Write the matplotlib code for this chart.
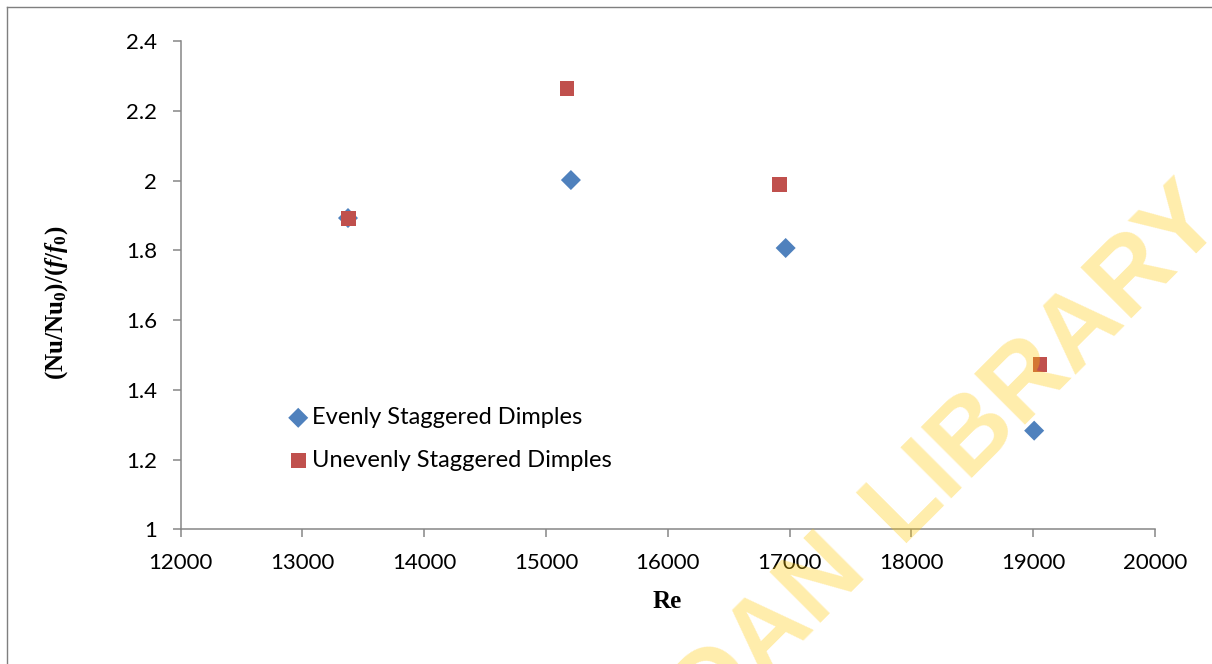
import matplotlib
matplotlib.use("Agg")
import matplotlib.pyplot as plt
from matplotlib.lines import Line2D

# Data
re_even = [13375, 15205, 16968, 19008]
ratio_even = [1.893, 2.002, 1.807, 1.283]
re_uneven = [13377, 15173, 16918, 19057]
ratio_uneven = [1.892, 2.265, 1.989, 1.473]
label_even = "Evenly Staggered Dimples"
label_uneven = "Unevenly Staggered Dimples"
x_ticks = [12000, 13000, 14000, 15000, 16000, 17000, 18000, 19000, 20000]
y_ticks = [1, 1.2, 1.4, 1.6, 1.8, 2, 2.2, 2.4]
y_tick_labels = ["1", "1.2", "1.4", "1.6", "1.8", "2", "2.2", "2.4"]

W, H = 1212, 664
DPI = 100
plt.rcParams['mathtext.fontset'] = 'custom'
plt.rcParams['mathtext.rm'] = 'Liberation Serif:bold'
plt.rcParams['mathtext.it'] = 'Liberation Serif:italic:bold'
plt.rcParams['mathtext.bf'] = 'Liberation Serif:bold'

fig = plt.figure(figsize=(W / DPI, H / DPI), dpi=DPI)
fig.patch.set_facecolor('white')
ax = fig.add_axes([180.5 / W, 1 - 529.3 / H, (1155 - 180.5) / W, (529.3 - 41.3) / H])

ax.scatter(re_even, ratio_even, marker='D', s=10.2 ** 2, color='#4F81BD',
           edgecolors='none', label=label_even, zorder=3)
ax.scatter(re_uneven, ratio_uneven, marker='s', s=10.6 ** 2, color='#C0504D',
           edgecolors='none', label=label_uneven, zorder=4)

ax.set_xlim(12000, 20000)
ax.set_ylim(1, 2.4)
ax.set_xticks(x_ticks)
ax.set_xticklabels([str(v) for v in x_ticks])
ax.set_yticks(y_ticks)
ax.set_yticklabels(y_tick_labels)

for side in ['top', 'right']:
    ax.spines[side].set_visible(False)
for side in ['left', 'bottom']:
    ax.spines[side].set_color('#868686')
    ax.spines[side].set_linewidth(1.1)
ax.tick_params(axis='both', direction='out', length=6, width=1.1, color='#868686',
               labelsize=16, labelcolor='black', pad=11)
for lbl in ax.get_xticklabels() + ax.get_yticklabels():
    lbl.set_fontfamily('Lato')

fig.text(667 / W, 1 - 602 / H, 'Re', fontfamily='Liberation Serif', fontweight='bold',
         fontsize=18, ha='center', va='center')
fig.text(57 / W, 1 - 303 / H, r'$\mathrm{(Nu/Nu_0)/(}\mathit{f/f_0}\mathrm{)}$',
         fontsize=18, rotation=90, ha='center', va='center')

leg = ax.legend(loc='upper left', bbox_to_anchor=(287 / W, 1 - 407 / H),
                bbox_transform=fig.transFigure, frameon=False,
                prop={'family': 'Lato', 'size': 17}, handletextpad=0.1,
                handlelength=0.95, labelspacing=0.93, borderaxespad=0,
                borderpad=0, scatterpoints=1)

# outer chart border
fig.add_artist(Line2D([7 / W, 7 / W], [0, 1 - 7 / H], transform=fig.transFigure,
                      color='#7f7f7f', lw=1.0))
fig.add_artist(Line2D([7 / W, 1], [1 - 7 / H, 1 - 7 / H], transform=fig.transFigure,
                      color='#7f7f7f', lw=1.0))

# watermark
wm_kw = dict(rotation=45, rotation_mode='anchor', va='baseline', fontsize=75,
             fontweight='bold', fontfamily='Liberation Sans', color='#FFC800',
             alpha=0.33, zorder=10)
fig.text(900 / W, 1 - 543 / H, 'LIBRARY', ha='left', **wm_kw)
fig.text(869 / W, 1 - 574 / H, 'UNIVERSITY OF IBADAN', ha='right', **wm_kw)

fig.savefig('out.png', dpi=DPI)
